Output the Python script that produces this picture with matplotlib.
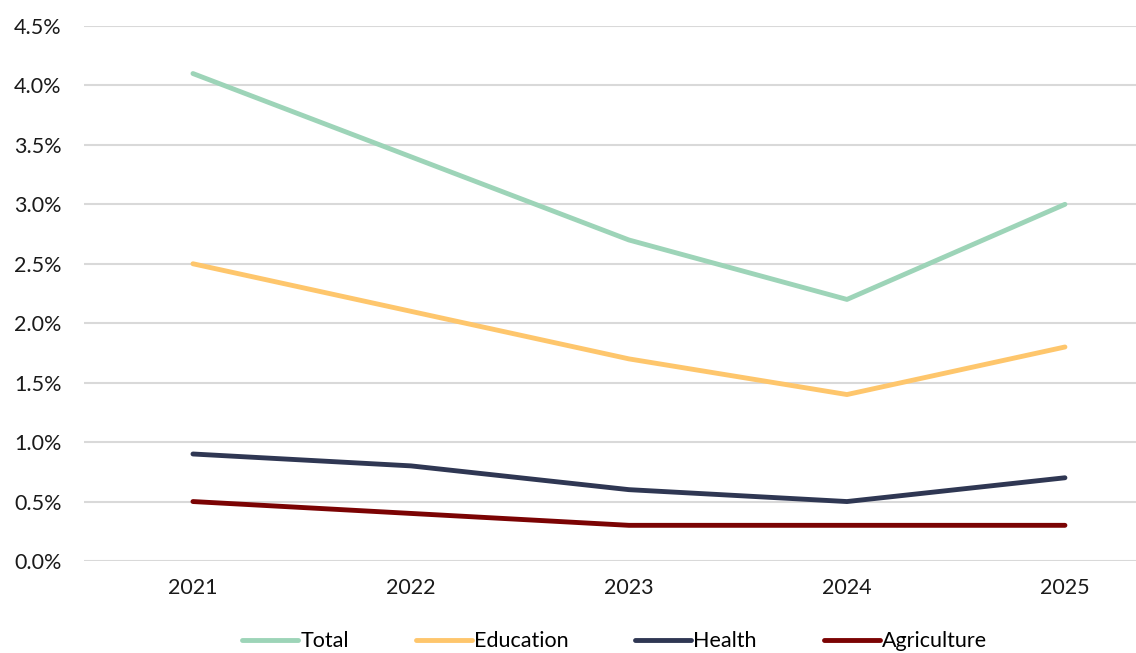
import matplotlib.pyplot as plt
from matplotlib.ticker import FuncFormatter, MultipleLocator

plt.rcParams['font.family'] = ['Lato', 'DejaVu Sans']

years = ["2021", "2022", "2023", "2024", "2025"]
total = [4.1, 3.4, 2.7, 2.2, 3.0]
education = [2.5, 2.1, 1.7, 1.4, 1.8]
health = [0.9, 0.8, 0.6, 0.5, 0.7]
agriculture = [0.5, 0.4, 0.3, 0.3, 0.3]

series = [
    ("Total", total, "#9dd4b8"),
    ("Education", education, "#fec66c"),
    ("Health", health, "#2f3753"),
    ("Agriculture", agriculture, "#7b0303"),
]

fig = plt.figure(figsize=(11.36, 6.53), dpi=100)
ax = fig.add_axes([0.0739, 0.1409, 0.9595, 0.8193])

x = range(len(years))
for name, vals, col in series:
    ax.plot(x, vals, color=col, lw=3.5, solid_capstyle="round", label=name)

ax.set_xlim(-0.5, len(years) - 0.5)
ax.set_ylim(0, 4.5)
ax.set_xticks(list(x))
ax.set_xticklabels(years)
ax.yaxis.set_major_locator(MultipleLocator(0.5))
ax.yaxis.set_major_formatter(FuncFormatter(lambda v, p: f"{v:.1f}%"))
ax.grid(axis="y", color="#d9d9d9", lw=1.5)
ax.set_axisbelow(True)
for s in ax.spines.values():
    s.set_visible(False)
ax.tick_params(length=0, labelsize=15.5, colors="#1a1a1a")
ax.tick_params(axis="x", pad=12)
ax.tick_params(axis="y", pad=16)

fig.legend(loc="center", bbox_to_anchor=(0.541, 0.018), ncol=4, frameon=False,
           fontsize=15.5, handlelength=2.6, handletextpad=0.1, columnspacing=3.1)

fig.savefig("out.png", dpi=100)
